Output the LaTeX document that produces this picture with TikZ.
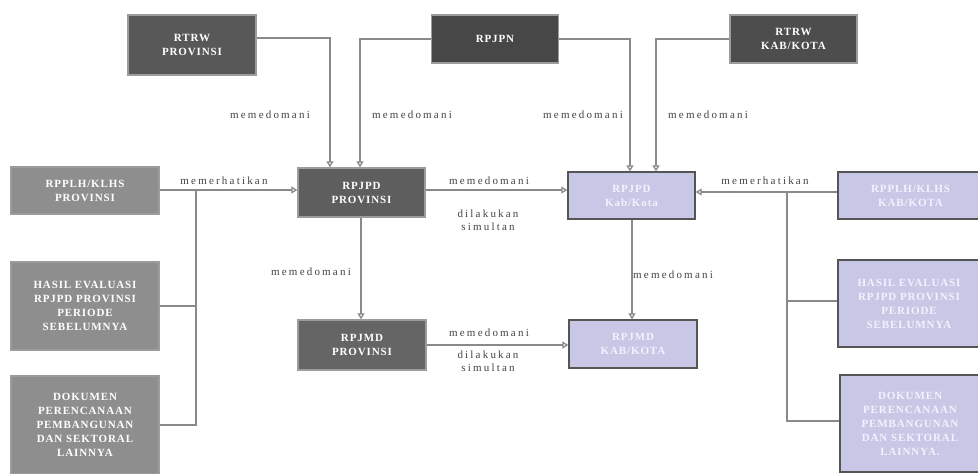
\documentclass[tikz,border=0pt]{standalone}
\usepackage{fontspec}
\setmainfont{Liberation Serif}
\usetikzlibrary{arrows.meta,calc}
\definecolor{lnc}{HTML}{8A8A8A}
\definecolor{lblc}{HTML}{444444}
\definecolor{dk1}{HTML}{585858}
\definecolor{dk2}{HTML}{474747}
\definecolor{dk3}{HTML}{4D4D4D}
\definecolor{dk4}{HTML}{5E5E5E}
\definecolor{dk5}{HTML}{656565}
\definecolor{md}{HTML}{8E8E8E}
\definecolor{lav}{HTML}{C8C8E6}
\definecolor{lavtxt}{HTML}{F2F2FF}
\definecolor{bordl}{HTML}{9C9C9C}
\definecolor{bordd}{HTML}{555555}
\begin{document}
\begin{tikzpicture}[x=1pt,y=-1pt,
  box/.style={rectangle,draw=bordl,line width=1.3pt,text=white,align=center,
    inner sep=0pt,
    font=\fontsize{11}{14}\selectfont\bfseries\addfontfeatures{LetterSpace=8}},
  lbox/.style={box,fill=lav,draw=bordd,text=lavtxt},
  lbl/.style={text=lblc,inner sep=1pt,
    font=\fontsize{11}{13}\selectfont\addfontfeatures{LetterSpace=20}},
  con/.style={draw=lnc,line width=1.3pt},
  arr/.style={con,-{Triangle[open,length=6pt,width=7pt]}}]
\useasboundingbox (0,0) rectangle (978,474);
\fill[white] (0,0) rectangle (978,474);
% top row
\node[box,fill=dk1,minimum width=128pt,minimum height=60pt] (rtrwp) at (192,45) {RTRW\\PROVINSI};
\node[box,fill=dk2,minimum width=127pt,minimum height=48pt] (rpjpn) at (495,39) {RPJPN};
\node[box,fill=dk3,minimum width=127pt,minimum height=48pt] (rtrwk) at (793.5,39) {RTRW\\KAB/KOTA};
% middle row
\node[box,fill=md,minimum width=148pt,minimum height=47pt] (rpplhp) at (85,190.5) {RPPLH/KLHS\\PROVINSI};
\node[box,fill=dk4,minimum width=127pt,minimum height=49pt] (rpjpdp) at (361.5,192.5) {RPJPD\\PROVINSI};
\node[lbox,minimum width=127pt,minimum height=47pt] (rpjpdk) at (631.5,195.5) {RPJPD\\Kab/Kota};
\node[lbox,minimum width=145pt,minimum height=47pt] (rpplhk) at (910.5,195.5) {RPPLH/KLHS\\KAB/KOTA};
% left column
\node[box,fill=md,minimum width=148pt,minimum height=88pt] (hasilp) at (85,306) {HASIL EVALUASI\\RPJPD PROVINSI\\PERIODE\\SEBELUMNYA};
\node[box,fill=md,minimum width=148pt,minimum height=98pt] (dokp) at (85,425) {DOKUMEN\\PERENCANAAN\\PEMBANGUNAN\\DAN SEKTORAL\\LAINNYA};
% bottom middle
\node[box,fill=dk5,minimum width=128pt,minimum height=50pt] (rpjmdp) at (362,345) {RPJMD\\PROVINSI};
\node[lbox,minimum width=128pt,minimum height=48pt] (rpjmdk) at (633,344) {RPJMD\\KAB/KOTA};
% right column
\node[lbox,minimum width=142pt,minimum height=87pt] (hasilk) at (909,303.5) {HASIL EVALUASI\\RPJPD PROVINSI\\PERIODE\\SEBELUMNYA};
\node[lbox,minimum width=140pt,minimum height=97pt] (dokk) at (910,423.5) {DOKUMEN\\PERENCANAAN\\PEMBANGUNAN\\DAN SEKTORAL\\LAINNYA.};
% top connectors
\draw[arr] ([yshift=7pt]rtrwp.east) -| ([xshift=-31.5pt]rpjpdp.north);
\draw[arr] (rpjpn.west) -| ([xshift=-1.5pt]rpjpdp.north);
\draw[arr] (rpjpn.east) -| ([xshift=-1.5pt]rpjpdk.north);
\draw[arr] (rtrwk.west) -| ([xshift=24.5pt]rpjpdk.north);
\node[lbl] (l1) at (270,115) {memedomani};
\node[lbl] (l2) at (412,115) {memedomani};
\node[lbl] (l3) at (583,115) {memedomani};
\node[lbl] (l4) at (708,115) {memedomani};
% left bus
\coordinate (bl) at (196,190);
\draw[arr] ([yshift=0.5pt]rpplhp.east) -- ([yshift=0.5pt]rpplhp.east -| rpjpdp.west);
\draw[con] (bl) -- (bl |- dokp.east) -- (dokp.east);
\draw[con] (hasilp.east) -- (hasilp.east -| bl);
\node[lbl] (l5) at (224,181) {memerhatikan};
% middle horizontal
\coordinate (m1) at (rpjpdp.east |- 0,190);
\draw[arr] (m1) -- (m1 -| rpjpdk.west);
\node[lbl] (l6) at (489,181) {memedomani};
\node[lbl,align=center,font=\fontsize{11}{13}\selectfont\addfontfeatures{LetterSpace=20}] (l7) at (488,220) {dilakukan\\simultan};
% right bus
\coordinate (br) at (787,192);
\draw[arr] (rpplhk.west |- br) -- (rpjpdk.east |- br);
\draw[con] (br) -- (br |- 0,421) -- (dokk.west |- 0,421);
\draw[con] (br |- 0,301) -- (hasilk.west |- 0,301);
\node[lbl] (l8) at (765,181) {memerhatikan};
% verticals
\draw[arr] ([xshift=-0.5pt]rpjpdp.south) -- ([xshift=-0.5pt]rpjpdp.south |- rpjmdp.north);
\node[lbl] (l9) at (311,272) {memedomani};
\draw[arr] ([xshift=0.5pt]rpjpdk.south) -- ([xshift=0.5pt]rpjpdk.south |- rpjmdk.north);
\node[lbl] (l10) at (673,275) {memedomani};
% bottom horizontal
\draw[arr] (rpjmdp.east) -- (rpjmdp.east -| rpjmdk.west);
\node[lbl] (l11) at (489,333) {memedomani};
\node[lbl,align=center,font=\fontsize{11}{13}\selectfont\addfontfeatures{LetterSpace=20}] (l12) at (488,361) {dilakukan\\simultan};
\end{tikzpicture}
\end{document}
